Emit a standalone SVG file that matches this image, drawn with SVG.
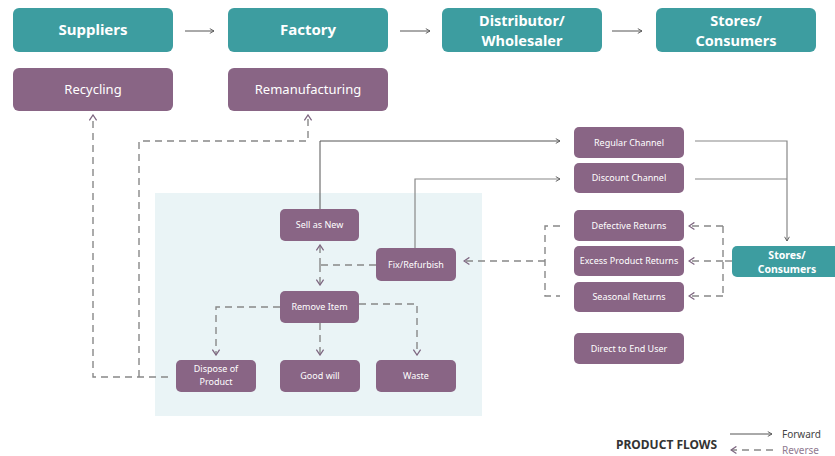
<svg xmlns="http://www.w3.org/2000/svg" width="835" height="456" viewBox="0 0 835 456">
<defs>
<marker id="fa" viewBox="0 0 10 10" refX="9" refY="5" markerWidth="6" markerHeight="6" orient="auto" markerUnits="userSpaceOnUse"><path d="M2,1 L9,5 L2,9" fill="none" stroke="#555" stroke-width="1.5"/></marker>
<marker id="ra" viewBox="0 0 10 10" refX="9" refY="5" markerWidth="9" markerHeight="9" orient="auto" markerUnits="userSpaceOnUse"><path d="M3,1 L9,5 L3,9" fill="none" stroke="#7e6680" stroke-width="1.4"/></marker>
<style>
.teal{fill:#3d9da0}
.pur{fill:#896585}
.tb{font-family:"Noto Sans","Open Sans",sans-serif;font-weight:bold;font-size:15px;fill:#fff;text-anchor:middle}
.tb2{font-family:"Noto Sans","Open Sans",sans-serif;font-weight:bold;font-size:14.5px;fill:#fff;text-anchor:middle}
.tm{font-family:"Noto Sans","Open Sans",sans-serif;font-size:13px;fill:#fff;text-anchor:middle}
.ts{font-family:"Noto Sans","Open Sans",sans-serif;font-size:9px;fill:#fff;text-anchor:middle}
.fw{fill:none;stroke:#555;stroke-width:1}
.fw2{fill:none;stroke:#888;stroke-width:1.2}
.rv{fill:none;stroke:#888;stroke-width:1.4;stroke-dasharray:7,5}
</style>
</defs>
<rect x="0" y="0" width="835" height="456" fill="#fff"/>
<rect x="155" y="193" width="327" height="223" fill="#eaf4f6"/>

<g id="suppliers"><rect class="teal" x="13" y="8" width="160" height="44" rx="6"/><text class="tb" x="93" y="35">Suppliers</text></g>
<g id="factory"><rect class="teal" x="228" y="8" width="160" height="44" rx="6"/><text class="tb" x="308" y="35">Factory</text></g>
<g id="distributor"><rect class="teal" x="442" y="8" width="160" height="44" rx="6"/><text class="tb2" x="522" y="26">Distributor/</text><text class="tb2" x="522" y="46">Wholesaler</text></g>
<g id="stores-top"><rect class="teal" x="656" y="8" width="160" height="44" rx="6"/><text class="tb2" x="736" y="26">Stores/</text><text class="tb2" x="736" y="46">Consumers</text></g>

<g id="recycling"><rect class="pur" x="13" y="68" width="160" height="43" rx="6"/><text class="tm" x="93" y="94">Recycling</text></g>
<g id="remanufacturing"><rect class="pur" x="228" y="68" width="160" height="43" rx="6"/><text class="tm" x="308" y="94">Remanufacturing</text></g>

<g id="sell-as-new"><rect class="pur" x="280" y="209" width="79" height="32" rx="5"/><text class="ts" x="319.5" y="228">Sell as New</text></g>
<g id="fix-refurbish"><rect class="pur" x="376" y="248" width="80" height="33" rx="5"/><text class="ts" x="416" y="268">Fix/Refurbish</text></g>
<g id="remove-item"><rect class="pur" x="280" y="291" width="79" height="32" rx="5"/><text class="ts" x="319.5" y="310">Remove Item</text></g>
<g id="dispose"><rect class="pur" x="176" y="360" width="80" height="32" rx="5"/><text class="ts" x="216" y="371.5">Dispose of</text><text class="ts" x="216" y="384.5">Product</text></g>
<g id="good-will"><rect class="pur" x="280" y="360" width="80" height="32" rx="5"/><text class="ts" x="320" y="379">Good will</text></g>
<g id="waste"><rect class="pur" x="376" y="360" width="80" height="32" rx="5"/><text class="ts" x="416" y="379">Waste</text></g>

<g id="regular-channel"><rect class="pur" x="574" y="127" width="110" height="31" rx="5"/><text class="ts" x="629" y="145.5">Regular Channel</text></g>
<g id="discount-channel"><rect class="pur" x="574" y="163" width="110" height="30" rx="5"/><text class="ts" x="629" y="181">Discount Channel</text></g>
<g id="defective-returns"><rect class="pur" x="574" y="210" width="110" height="31" rx="5"/><text class="ts" x="629" y="228.5">Defective Returns</text></g>
<g id="excess-returns"><rect class="pur" x="574" y="246" width="110" height="30" rx="5"/><text class="ts" x="629" y="264">Excess Product Returns</text></g>
<g id="seasonal-returns"><rect class="pur" x="574" y="282" width="110" height="30" rx="5"/><text class="ts" x="629" y="300">Seasonal Returns</text></g>
<g id="direct-end-user"><rect class="pur" x="574" y="333" width="110" height="31" rx="5"/><text class="ts" x="629" y="351.5">Direct to End User</text></g>
<g id="stores-right"><rect class="teal" x="732" y="246" width="110" height="31" rx="5"/><text class="tb" style="font-size:10.5px" x="787" y="259">Stores/</text><text class="tb" style="font-size:10.5px" x="787" y="273">Consumers</text></g>

<g id="connectors">
<line class="fw" x1="185" y1="31" x2="214" y2="31" marker-end="url(#fa)"/>
<line class="fw" x1="400" y1="31" x2="430" y2="31" marker-end="url(#fa)"/>
<line class="fw" x1="612" y1="31" x2="642" y2="31" marker-end="url(#fa)"/>

<polyline class="fw" points="320,209 320,141 560,141" marker-end="url(#fa)"/>
<polyline class="fw2" points="415,248 415,179 560,179" marker-end="url(#fa)"/>
<polyline class="fw2" points="695,141 787,141 787,241" marker-end="url(#fa)"/>
<line class="fw2" x1="695" y1="179" x2="787" y2="179"/>

<polyline class="rv" points="168,377 93,377 93,115" marker-end="url(#ra)"/>
<polyline class="rv" points="139,377 139,141 308,141 308,115" marker-end="url(#ra)"/>

<polyline class="rv" points="732,261 723,261"/>
<polyline class="rv" points="723,226 723,296"/>
<line class="rv" x1="723" y1="226" x2="689" y2="226" marker-end="url(#ra)"/>
<line class="rv" x1="723" y1="261" x2="689" y2="261" marker-end="url(#ra)"/>
<line class="rv" x1="723" y1="296" x2="689" y2="296" marker-end="url(#ra)"/>

<polyline class="rv" points="560,226 545,226 545,296 560,296"/>
<line class="rv" x1="545" y1="261" x2="464" y2="261" marker-end="url(#ra)"/>

<line class="rv" x1="376" y1="265" x2="320" y2="265"/>
<line class="rv" x1="320" y1="265" x2="320" y2="245" marker-end="url(#ra)"/>
<line class="rv" x1="320" y1="265" x2="320" y2="285" marker-end="url(#ra)"/>

<polyline class="rv" points="280,307 216,307 216,355" marker-end="url(#ra)"/>
<line class="rv" x1="320" y1="323" x2="320" y2="355" marker-end="url(#ra)"/>
<polyline class="rv" points="359,304 417,304 417,355" marker-end="url(#ra)"/>
</g>

<g id="legend">
<text x="616" y="449" font-family="'Noto Sans','Open Sans',sans-serif" font-weight="bold" font-size="12" fill="#333">PRODUCT FLOWS</text>
<line class="fw" x1="730" y1="434" x2="772" y2="434" marker-end="url(#fa)"/>
<text x="782" y="438" font-family="'Noto Sans','Open Sans',sans-serif" font-size="10" fill="#444">Forward</text>
<line class="rv" x1="773" y1="450" x2="731" y2="450" marker-end="url(#ra)"/>
<text x="782" y="454" font-family="'Noto Sans','Open Sans',sans-serif" font-size="10" fill="#8f7a91">Reverse</text>
</g>
</svg>
